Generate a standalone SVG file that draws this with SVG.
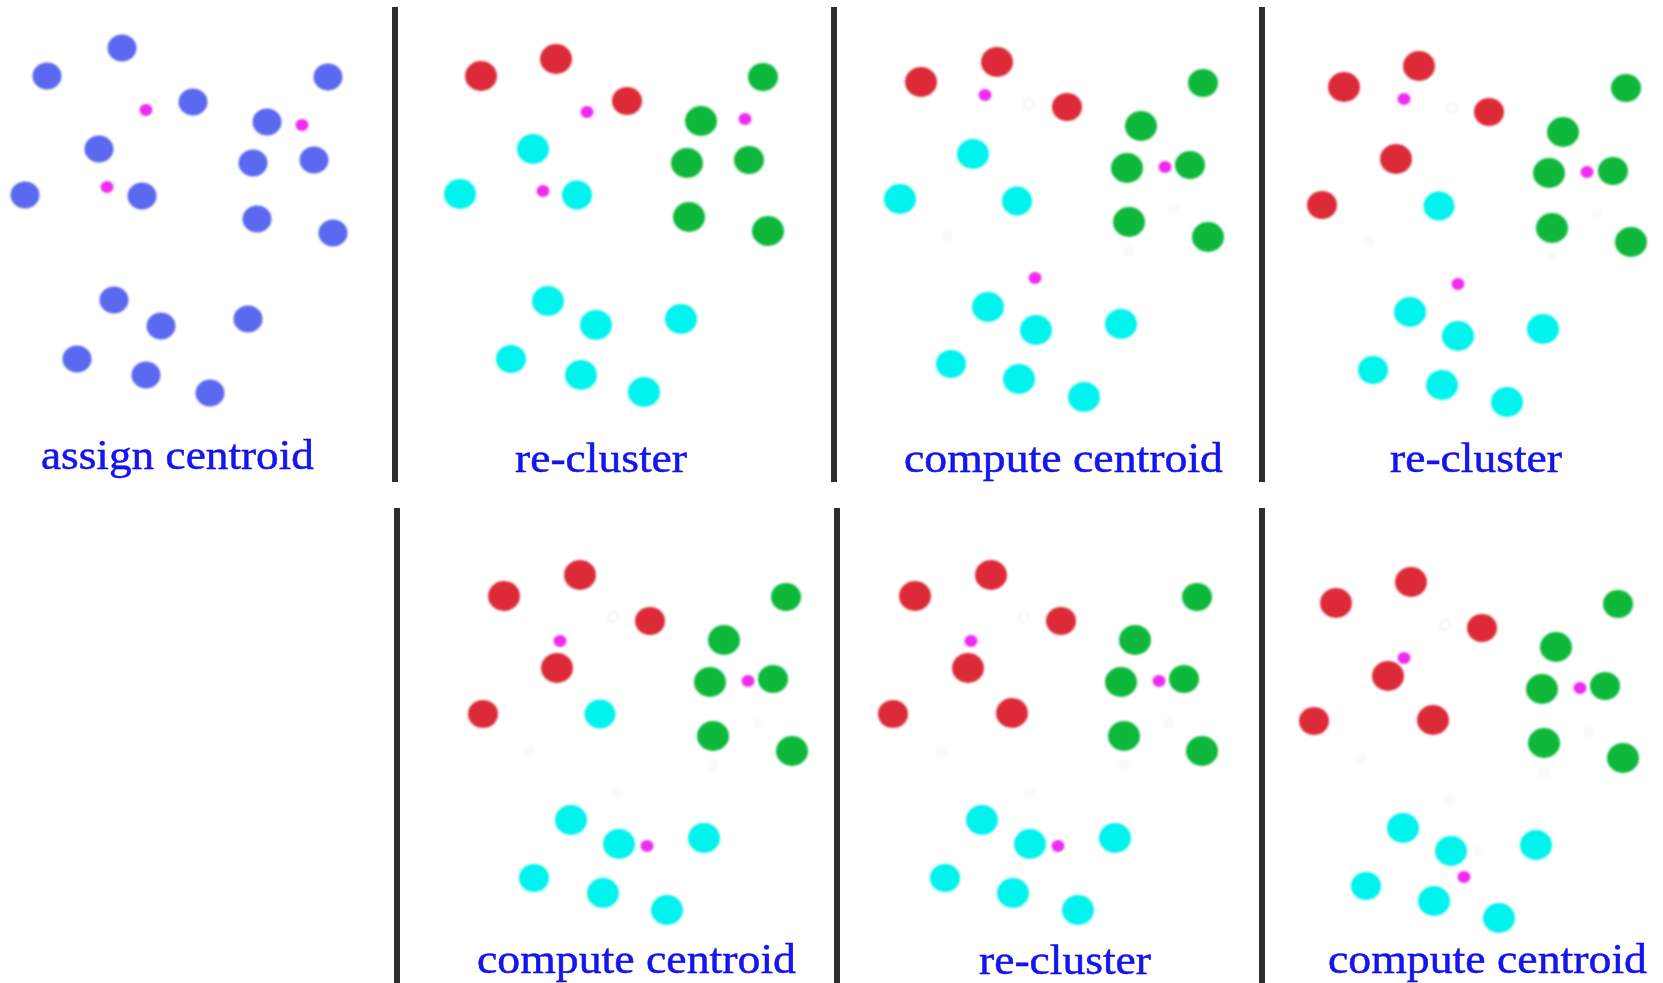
<svg xmlns="http://www.w3.org/2000/svg" width="1663" height="983" viewBox="0 0 1663 983">
  <defs>
    <filter id="soft" x="-20%" y="-20%" width="140%" height="140%">
      <feGaussianBlur stdDeviation="0.9"/>
    </filter>
    <filter id="softText" x="-5%" y="-20%" width="110%" height="140%">
      <feGaussianBlur stdDeviation="0.45"/>
    </filter>
  </defs>
  <style>
    .bar { fill: #2d2d2d; }
    .pts { filter: url(#soft); }
    .u { fill: #5a69ef; }
    .r { fill: #dd2c38; }
    .g { fill: #0ab83a; }
    .c { fill: #03f3ec; }
    .m { fill: #f02cf0; }
    .ring { fill: none; stroke: #f9f2fb; stroke-width: 2; }
    .ghost { fill: #fcf9fd; }
    .lbl { font-family: "Liberation Serif", "Times New Roman", serif; font-size: 42px; fill: #1212ee; stroke: #1212ee; stroke-width: 0.5; filter: url(#softText); }
  </style>
  <rect width="1663" height="983" fill="#ffffff"/>

  <!-- panel separators -->
  <g id="separators">
    <rect class="bar" x="392" y="7" width="6" height="475"/>
    <rect class="bar" x="831" y="7" width="6" height="475"/>
    <rect class="bar" x="1259" y="7" width="6" height="475"/>
    <rect class="bar" x="394" y="508" width="6" height="475"/>
    <rect class="bar" x="834" y="508" width="6" height="475"/>
    <rect class="bar" x="1259" y="508" width="6" height="475"/>
  </g>

  <!-- step 1: initial points with random centroids -->
  <g id="panel-assign">
    <g class="pts">
      <g class="u">
        <ellipse cx="122" cy="48" rx="14.5" ry="13.5"/>
        <ellipse cx="47" cy="76" rx="14.5" ry="13.5"/>
        <ellipse cx="193" cy="102" rx="14.5" ry="13.5"/>
        <ellipse cx="328" cy="77" rx="14.5" ry="13.5"/>
        <ellipse cx="267" cy="122" rx="14.5" ry="13.5"/>
        <ellipse cx="99" cy="149" rx="14.5" ry="13.5"/>
        <ellipse cx="253" cy="163" rx="14.5" ry="13.5"/>
        <ellipse cx="314" cy="160" rx="14.5" ry="13.5"/>
        <ellipse cx="25" cy="195" rx="14.5" ry="13.5"/>
        <ellipse cx="142" cy="196" rx="14.5" ry="13.5"/>
        <ellipse cx="257" cy="219" rx="14.5" ry="13.5"/>
        <ellipse cx="333" cy="233" rx="14.5" ry="13.5"/>
        <ellipse cx="114" cy="300" rx="14.5" ry="13.5"/>
        <ellipse cx="161" cy="326" rx="14.5" ry="13.5"/>
        <ellipse cx="248" cy="319" rx="14.5" ry="13.5"/>
        <ellipse cx="77" cy="359" rx="14.5" ry="13.5"/>
        <ellipse cx="146" cy="375" rx="14.5" ry="13.5"/>
        <ellipse cx="210" cy="393" rx="14.5" ry="13.5"/>
      </g>
      <g class="m">
        <ellipse cx="146" cy="110" rx="6.5" ry="6"/>
        <ellipse cx="302" cy="125" rx="6.5" ry="6"/>
        <ellipse cx="107" cy="187" rx="6.5" ry="6"/>
      </g>
    </g>
    <text class="lbl" x="41" y="469" textLength="273" lengthAdjust="spacingAndGlyphs">assign centroid</text>
  </g>

  <!-- step 2: first re-cluster -->
  <g id="panel-recluster-1">
    <g class="pts">
      <g class="r">
        <ellipse cx="481" cy="76" rx="16" ry="15"/>
        <ellipse cx="556" cy="59" rx="16" ry="15"/>
        <ellipse cx="627" cy="101" rx="15" ry="14"/>
      </g>
      <g class="g">
        <ellipse cx="763" cy="77" rx="15" ry="14"/>
        <ellipse cx="701" cy="121" rx="16" ry="15"/>
        <ellipse cx="687" cy="163" rx="16" ry="15"/>
        <ellipse cx="749" cy="160" rx="15" ry="14"/>
        <ellipse cx="689" cy="217" rx="16" ry="15"/>
        <ellipse cx="768" cy="231" rx="16" ry="15"/>
      </g>
      <g class="c">
        <ellipse cx="533" cy="149" rx="16" ry="15"/>
        <ellipse cx="460" cy="194" rx="16" ry="15"/>
        <ellipse cx="577" cy="195" rx="15" ry="14.5"/>
        <ellipse cx="548" cy="301" rx="16" ry="15"/>
        <ellipse cx="596" cy="325" rx="16" ry="15"/>
        <ellipse cx="681" cy="319" rx="16" ry="15"/>
        <ellipse cx="511" cy="359" rx="15" ry="14"/>
        <ellipse cx="581" cy="375" rx="16" ry="15"/>
        <ellipse cx="644" cy="392" rx="16" ry="15"/>
      </g>
      <g class="m">
        <ellipse cx="587" cy="112" rx="6.5" ry="6"/>
        <ellipse cx="745" cy="119" rx="6.5" ry="6"/>
        <ellipse cx="543" cy="191" rx="6.5" ry="6"/>
      </g>
    </g>
    <text class="lbl" x="515" y="472" textLength="172" lengthAdjust="spacingAndGlyphs">re-cluster</text>
  </g>

  <!-- step 3: first centroid update -->
  <g id="panel-compute-1">
    <g class="pts">
      <circle class="ring" cx="1029" cy="104" r="5"/>
      <g class="ghost">
        <circle cx="947" cy="237" r="6"/>
        <circle cx="1173" cy="209" r="6"/>
        <circle cx="1129" cy="251" r="6"/>
      </g>
      <g class="r">
        <ellipse cx="921" cy="82" rx="16" ry="15"/>
        <ellipse cx="997" cy="62" rx="16" ry="15"/>
        <ellipse cx="1067" cy="107" rx="15" ry="14"/>
      </g>
      <g class="g">
        <ellipse cx="1203" cy="83" rx="15" ry="14"/>
        <ellipse cx="1141" cy="126" rx="16" ry="15"/>
        <ellipse cx="1127" cy="168" rx="16" ry="15"/>
        <ellipse cx="1190" cy="165" rx="15" ry="14"/>
        <ellipse cx="1129" cy="222" rx="16" ry="15"/>
        <ellipse cx="1208" cy="237" rx="16" ry="15"/>
      </g>
      <g class="c">
        <ellipse cx="973" cy="154" rx="16" ry="15"/>
        <ellipse cx="900" cy="199" rx="16" ry="15"/>
        <ellipse cx="1017" cy="201" rx="15" ry="14.5"/>
        <ellipse cx="988" cy="307" rx="16" ry="15"/>
        <ellipse cx="1036" cy="330" rx="16" ry="15"/>
        <ellipse cx="1121" cy="324" rx="16" ry="15"/>
        <ellipse cx="951" cy="364" rx="15" ry="14"/>
        <ellipse cx="1019" cy="379" rx="16" ry="15"/>
        <ellipse cx="1084" cy="397" rx="16" ry="15"/>
      </g>
      <g class="m">
        <ellipse cx="985" cy="95" rx="6.5" ry="6"/>
        <ellipse cx="1165" cy="167" rx="6.5" ry="6"/>
        <ellipse cx="1035" cy="278" rx="6.5" ry="6"/>
      </g>
    </g>
    <text class="lbl" x="904" y="472" textLength="319" lengthAdjust="spacingAndGlyphs">compute centroid</text>
  </g>

  <!-- step 4: second re-cluster -->
  <g id="panel-recluster-2">
    <g class="pts">
      <circle class="ring" cx="1452" cy="108" r="5"/>
      <g class="ghost">
        <circle cx="1369" cy="242" r="6"/>
        <circle cx="1597" cy="214" r="6"/>
        <circle cx="1552" cy="256" r="6"/>
      </g>
      <g class="r">
        <ellipse cx="1344" cy="87" rx="16" ry="15"/>
        <ellipse cx="1419" cy="66" rx="16" ry="15"/>
        <ellipse cx="1489" cy="112" rx="15" ry="14"/>
        <ellipse cx="1396" cy="159" rx="16" ry="15"/>
        <ellipse cx="1322" cy="205" rx="15" ry="14"/>
      </g>
      <g class="g">
        <ellipse cx="1626" cy="88" rx="15" ry="14"/>
        <ellipse cx="1563" cy="132" rx="16" ry="15"/>
        <ellipse cx="1549" cy="173" rx="16" ry="15"/>
        <ellipse cx="1613" cy="171" rx="15" ry="14"/>
        <ellipse cx="1552" cy="228" rx="16" ry="15"/>
        <ellipse cx="1631" cy="242" rx="16" ry="15"/>
      </g>
      <g class="c">
        <ellipse cx="1439" cy="206" rx="15.5" ry="14.5"/>
        <ellipse cx="1410" cy="312" rx="16" ry="15"/>
        <ellipse cx="1458" cy="336" rx="16" ry="15"/>
        <ellipse cx="1543" cy="329" rx="16" ry="15"/>
        <ellipse cx="1373" cy="370" rx="15" ry="14"/>
        <ellipse cx="1442" cy="385" rx="16" ry="15"/>
        <ellipse cx="1507" cy="402" rx="16" ry="15"/>
      </g>
      <g class="m">
        <ellipse cx="1404" cy="99" rx="6.5" ry="6"/>
        <ellipse cx="1587" cy="172" rx="6.5" ry="6"/>
        <ellipse cx="1458" cy="284" rx="6.5" ry="6"/>
      </g>
    </g>
    <text class="lbl" x="1390" y="472" textLength="172" lengthAdjust="spacingAndGlyphs">re-cluster</text>
  </g>

  <!-- step 5: second centroid update -->
  <g id="panel-compute-2">
    <g class="pts">
      <circle class="ring" cx="613" cy="617" r="5"/>
      <g class="ghost">
        <circle cx="530" cy="751" r="6"/>
        <circle cx="758" cy="723" r="6"/>
        <circle cx="713" cy="765" r="6"/>
        <circle cx="618" cy="793" r="6"/>
      </g>
      <g class="r">
        <ellipse cx="504" cy="596" rx="16" ry="15"/>
        <ellipse cx="580" cy="575" rx="16" ry="15"/>
        <ellipse cx="650" cy="621" rx="15" ry="14"/>
        <ellipse cx="557" cy="668" rx="16" ry="15"/>
        <ellipse cx="483" cy="714" rx="15" ry="14"/>
      </g>
      <g class="g">
        <ellipse cx="786" cy="597" rx="15" ry="14"/>
        <ellipse cx="724" cy="640" rx="16" ry="15"/>
        <ellipse cx="710" cy="682" rx="16" ry="15"/>
        <ellipse cx="773" cy="679" rx="15" ry="14"/>
        <ellipse cx="713" cy="736" rx="16" ry="15"/>
        <ellipse cx="792" cy="751" rx="16" ry="15"/>
      </g>
      <g class="c">
        <ellipse cx="600" cy="714" rx="15.5" ry="14.5"/>
        <ellipse cx="571" cy="820" rx="16" ry="15"/>
        <ellipse cx="619" cy="844" rx="16" ry="15"/>
        <ellipse cx="704" cy="838" rx="16" ry="15"/>
        <ellipse cx="534" cy="878" rx="15" ry="14"/>
        <ellipse cx="603" cy="893" rx="16" ry="15"/>
        <ellipse cx="667" cy="910" rx="16" ry="15"/>
      </g>
      <g class="m">
        <ellipse cx="560" cy="641" rx="6.5" ry="6"/>
        <ellipse cx="748" cy="681" rx="6.5" ry="6"/>
        <ellipse cx="647" cy="846" rx="6.5" ry="6"/>
      </g>
    </g>
    <text class="lbl" x="477" y="973" textLength="319" lengthAdjust="spacingAndGlyphs">compute centroid</text>
  </g>

  <!-- step 6: third re-cluster -->
  <g id="panel-recluster-3">
    <g class="pts">
      <circle class="ring" cx="1024" cy="617" r="5"/>
      <g class="ghost">
        <circle cx="941" cy="751" r="6"/>
        <circle cx="1169" cy="723" r="6"/>
        <circle cx="1124" cy="765" r="6"/>
        <circle cx="1029" cy="793" r="6"/>
      </g>
      <g class="r">
        <ellipse cx="915" cy="596" rx="16" ry="15"/>
        <ellipse cx="991" cy="575" rx="16" ry="15"/>
        <ellipse cx="1061" cy="621" rx="15" ry="14"/>
        <ellipse cx="968" cy="668" rx="16" ry="15"/>
        <ellipse cx="893" cy="714" rx="15" ry="14"/>
        <ellipse cx="1012" cy="713" rx="16" ry="15"/>
      </g>
      <g class="g">
        <ellipse cx="1197" cy="597" rx="15" ry="14"/>
        <ellipse cx="1135" cy="640" rx="16" ry="15"/>
        <ellipse cx="1121" cy="682" rx="16" ry="15"/>
        <ellipse cx="1184" cy="679" rx="15" ry="14"/>
        <ellipse cx="1124" cy="736" rx="16" ry="15"/>
        <ellipse cx="1202" cy="751" rx="16" ry="15"/>
      </g>
      <g class="c">
        <ellipse cx="982" cy="820" rx="16" ry="15"/>
        <ellipse cx="1030" cy="844" rx="16" ry="15"/>
        <ellipse cx="1115" cy="838" rx="16" ry="15"/>
        <ellipse cx="945" cy="878" rx="15" ry="14"/>
        <ellipse cx="1013" cy="893" rx="16" ry="15"/>
        <ellipse cx="1078" cy="910" rx="16" ry="15"/>
      </g>
      <g class="m">
        <ellipse cx="971" cy="641" rx="6.5" ry="6"/>
        <ellipse cx="1159" cy="681" rx="6.5" ry="6"/>
        <ellipse cx="1058" cy="846" rx="6.5" ry="6"/>
      </g>
    </g>
    <text class="lbl" x="979" y="974" textLength="172" lengthAdjust="spacingAndGlyphs">re-cluster</text>
  </g>

  <!-- step 7: third centroid update -->
  <g id="panel-compute-3">
    <g class="pts">
      <circle class="ring" cx="1445" cy="625" r="5"/>
      <g class="ghost">
        <circle cx="1361" cy="758" r="6"/>
        <circle cx="1589" cy="731" r="6"/>
        <circle cx="1544" cy="772" r="6"/>
        <circle cx="1450" cy="800" r="6"/>
        <circle cx="1478" cy="851" r="6"/>
      </g>
      <g class="r">
        <ellipse cx="1336" cy="603" rx="16" ry="15"/>
        <ellipse cx="1411" cy="582" rx="16" ry="15"/>
        <ellipse cx="1482" cy="628" rx="15" ry="14"/>
        <ellipse cx="1388" cy="676" rx="16" ry="15"/>
        <ellipse cx="1314" cy="721" rx="15" ry="14"/>
        <ellipse cx="1433" cy="720" rx="16" ry="15"/>
      </g>
      <g class="g">
        <ellipse cx="1618" cy="604" rx="15" ry="14"/>
        <ellipse cx="1556" cy="647" rx="16" ry="15"/>
        <ellipse cx="1542" cy="689" rx="16" ry="15"/>
        <ellipse cx="1605" cy="686" rx="15" ry="14"/>
        <ellipse cx="1544" cy="743" rx="16" ry="15"/>
        <ellipse cx="1623" cy="758" rx="16" ry="15"/>
      </g>
      <g class="c">
        <ellipse cx="1403" cy="828" rx="16" ry="15"/>
        <ellipse cx="1451" cy="851" rx="16" ry="15"/>
        <ellipse cx="1536" cy="845" rx="16" ry="15"/>
        <ellipse cx="1366" cy="886" rx="15" ry="14"/>
        <ellipse cx="1434" cy="901" rx="16" ry="15"/>
        <ellipse cx="1499" cy="918" rx="16" ry="15"/>
      </g>
      <g class="m">
        <ellipse cx="1404" cy="658" rx="6.5" ry="6"/>
        <ellipse cx="1580" cy="688" rx="6.5" ry="6"/>
        <ellipse cx="1464" cy="877" rx="6.5" ry="6"/>
      </g>
    </g>
    <text class="lbl" x="1328" y="973" textLength="319" lengthAdjust="spacingAndGlyphs">compute centroid</text>
  </g>
</svg>
